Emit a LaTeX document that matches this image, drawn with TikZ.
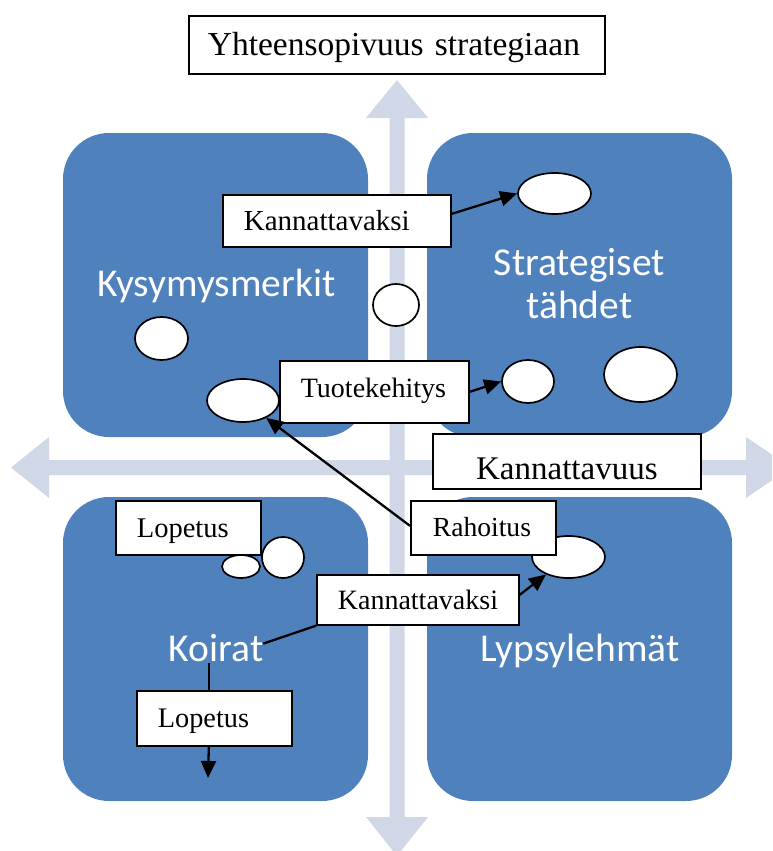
\documentclass[tikz,border=0pt]{standalone}
\usepackage{fontspec}
\setmainfont{Liberation Serif}
\newfontfamily\labelfont{Carlito}
\usetikzlibrary{shapes.geometric,arrows.meta}
\definecolor{quadblue}{HTML}{4F81BD}
\definecolor{axisgrey}{HTML}{D0D8E8}

\begin{document}
\hyphenpenalty=10000
\exhyphenpenalty=10000
\begin{tikzpicture}[x=1pt,y=-1pt,
  quad/.style={fill=quadblue, rounded corners=46pt},
  axis/.style={fill=axisgrey},
  qlabel/.style={text=white, font=\labelfont\fontsize{39.5}{43}\selectfont, inner sep=0pt, anchor=base, align=center},
  blob/.style={ellipse, draw=black, fill=white, line width=1.7pt, inner sep=0pt},
  tbox/.style={draw=black, fill=white, line width=1.7pt, anchor=north west,
    inner ysep=0pt, inner xsep=21pt, align=left, text depth=0pt},
  fs/.style={font=\fontsize{#1}{#1}\selectfont, text height=0.662*#1 pt},
  conn/.style={line width=2.3pt, draw=black},
  tip/.style={conn, -{Triangle[length=17pt,width=15pt]}}
]
\useasboundingbox (0,0) rectangle (772,851);
\clip (0,0) rectangle (772,851);

% axes: profitability (horizontal) and strategic fit (vertical)
\fill[axis] (11,467.5) -- (49,437) -- (49,460) -- (746,460) -- (746,437) -- (791,467.5)
  -- (746,498) -- (746,475) -- (49,475) -- (49,498) -- cycle;
\fill[axis] (397,80) -- (428,118) -- (404.5,118) -- (404.5,817) -- (428,817) -- (397,856)
  -- (366,817) -- (389.5,817) -- (389.5,118) -- (366,118) -- cycle;

% the four quadrants
\fill[quad] (63,133) rectangle (368,437);
\fill[quad] (427,133) rectangle (732,437);
\fill[quad] (63,497) rectangle (368,801);
\fill[quad] (427,497) rectangle (732,801);

% quadrant titles
\node[qlabel] (kysy) at (216.5,296) {Kysymysmerkit};
\node[qlabel] (stra) at (579.5,318) {Strategiset\\tähdet};
\node[qlabel] (koirat) at (216,661) {Koirat};
\node[qlabel] (lypsy) at (580,661) {Lypsylehmät};

% products
\node[blob, minimum width=73pt, minimum height=41pt] (eA) at (554.5,193.5) {};
\node[blob, minimum width=46pt, minimum height=42pt] (eB) at (396,305) {};
\node[blob, minimum width=53pt, minimum height=43pt] (eC) at (161.5,338.5) {};
\node[blob, minimum width=72pt, minimum height=43pt] (eD) at (243,400.5) {};
\node[blob, minimum width=52pt, minimum height=43pt] (eE) at (528,381.5) {};
\node[blob, minimum width=73pt, minimum height=55pt] (eF) at (640.5,374.5) {};
\node[blob, minimum width=38pt, minimum height=23pt] (eG) at (241,566.5) {};
\node[blob, minimum width=42pt, minimum height=41pt] (eH) at (283,557.5) {};
\node[blob, minimum width=73pt, minimum height=42pt] (eI) at (568.5,557) {};

% text boxes
\node[tbox, fs=33.5, inner xsep=19pt, text width=378pt, minimum height=58pt] (title) at (188,15) {Yhteensopivuus strategiaan};
\node[tbox, fs=29, text width=186pt, minimum height=52pt] (k1) at (222,194) {Kannattavaksi};
\node[tbox, fs=28, text width=147pt, minimum height=62pt, text depth=8pt] (tk) at (279,360) {Tuotekehitys};
\node[tbox, fs=33, align=center, text width=226pt, minimum height=55pt, text height=35.8pt] (kv) at (432,433) {Kannattavuus};
\node[tbox, fs=27.6, inner xsep=22pt, text width=101pt, minimum height=54pt] (rh) at (410,500) {Rahoitus};
\node[tbox, fs=28.5, text width=103pt, minimum height=54pt] (lp1) at (115,500) {Lopetus};
\node[tbox, fs=28, text width=160pt, minimum height=50pt] (k2) at (316,574) {Kannattavaksi};
\node[tbox, fs=28.3, text width=113pt, minimum height=55pt] (lp2) at (136,690) {Lopetus};

% connectors
\coordinate (lpx) at ([xshift=-5.5pt]lp2.north);
\coordinate (lpend) at (208,778);
\draw[tip] ([yshift=7pt]k1.east) -- (eA.west);
\draw[tip] (tk.east) -- (eE.west);
\draw[tip] ([yshift=2pt]rh.west) -- (eD);
\draw[tip] ([yshift=5pt]k2.east) -- (eI);
\draw[conn] ([yshift=4pt]koirat.east) -- (k2.south west);
\draw[conn] ([yshift=-2pt]lpx |- koirat.south) -- (lpx);
\draw[tip] (lpx |- lp2.south) -- (lpend);
\end{tikzpicture}
\end{document}
